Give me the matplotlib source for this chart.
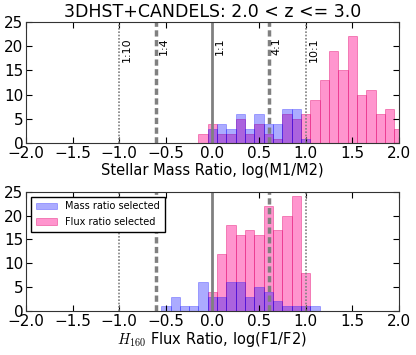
"""Mass-ratio / flux-ratio histograms for 3DHST+CANDELS pairs, 2.0 < z <= 3.0."""
import matplotlib
matplotlib.use("Agg")
import matplotlib.pyplot as plt
import numpy as np

plt.rcParams["font.family"] = ["DejaVu Sans"]
plt.rcParams["mathtext.fontset"] = "cm"

BIN_WIDTH = 0.1

# top panel: stellar mass ratio, log(M1/M2)
mass_bins = [-0.1, 0.0, 0.1, 0.2, 0.3, 0.4, 0.5, 0.6, 0.7, 0.8, 0.9,
             1.0, 1.1, 1.2, 1.3, 1.4, 1.5, 1.6, 1.7, 1.8, 1.9, 2.0]
mass_sel_counts = [0, 3, 4, 3, 6, 3, 6, 4, 4, 7, 7,
                   1, 0, 0, 0, 0, 0, 0, 0, 0, 0, 0]
flux_sel_counts = [2, 4, 2, 2, 5, 2, 4, 2, 1, 6, 5,
                   6, 9, 13, 19, 15, 22, 10, 11, 6, 7, 3]

# bottom panel: H160 flux ratio, log(F1/F2)
flux_bins = [-0.5, -0.4, -0.3, -0.2, -0.1, 0.0, 0.1, 0.2, 0.3,
             0.4, 0.5, 0.6, 0.7, 0.8, 0.9, 1.0, 1.1]
mass_sel_flux = [1, 3, 1, 1, 6, 3, 3, 6, 6, 3, 5, 4, 2, 1, 1, 1, 1]
flux_sel_flux = [0, 0, 0, 0, 0, 4, 12, 18, 16, 17, 16, 22, 17, 20, 24, 8, 0]

ratio_labels = ["1:10", "1:4", "1:1", "4:1", "10:1"]
ratio_pos = [-1.0, np.log10(0.25), 0.0, np.log10(4), 1.0]
ratio_styles = [(0, (1, 1)), (0, (1.8, 1.0)), "-", (0, (1.8, 1.0)), (0, (1, 1))]
ratio_widths = [1.2, 2.5, 2.0, 2.5, 1.2]

BLUE = "#0000ff"
PINK = "#ff1493"

fig = plt.figure(figsize=(4.16, 3.55), dpi=100)
ax1 = fig.add_axes([0.0625, 0.596, 0.8965, 0.343])
ax2 = fig.add_axes([0.0625, 0.124, 0.8965, 0.336])


def draw_panel(ax, bins, blue, pink, labels):
    # pink underneath, translucent blue on top gives the violet overlap
    hp = ax.bar(bins, pink, width=BIN_WIDTH, color=PINK, alpha=0.45,
                edgecolor="#e0006a", lw=0.6, label="Flux ratio selected")
    hb = ax.bar(bins, blue, width=BIN_WIDTH, color=BLUE, alpha=0.33,
                edgecolor=BLUE, lw=0.6, label="Mass ratio selected")
    for x, ls, lw, lab in zip(ratio_pos, ratio_styles, ratio_widths, ratio_labels):
        ax.axvline(x, color="grey", ls=ls, lw=lw)
        if labels:
            ax.text(x + 0.03, 21.8, lab, rotation=90, va="top", ha="left",
                    fontsize=8)
    ax.set_xlim(-2, 2)
    ax.set_ylim(0, 25)
    ax.set_yticks([0, 5, 10, 15, 20, 25])
    ax.tick_params(direction="in", top=True, right=True, labelsize=11,
                   length=4, pad=2)
    for sp in ax.spines.values():
        sp.set_color("#333333")
    return hb, hp


draw_panel(ax1, mass_bins, mass_sel_counts, flux_sel_counts, True)
ax1.set_title("3DHST+CANDELS: 2.0 < z <= 3.0", fontsize=12.5, pad=3)
ax1.set_xlabel("Stellar Mass Ratio, log(M1/M2)", fontsize=10.5, labelpad=1)

hb, hp = draw_panel(ax2, flux_bins, mass_sel_flux, flux_sel_flux, False)
ax2.set_xlabel("$H_{160}$ Flux Ratio, log(F1/F2)", fontsize=10.5, labelpad=1)
leg = ax2.legend([hb, hp], ["Mass ratio selected", "Flux ratio selected"],
                 loc="upper left", fontsize=7, fancybox=False, framealpha=1,
                 borderpad=0.5, handlelength=2.2, labelspacing=0.6)
leg.get_frame().set_edgecolor("black")

fig.savefig("out.png", dpi=100)
